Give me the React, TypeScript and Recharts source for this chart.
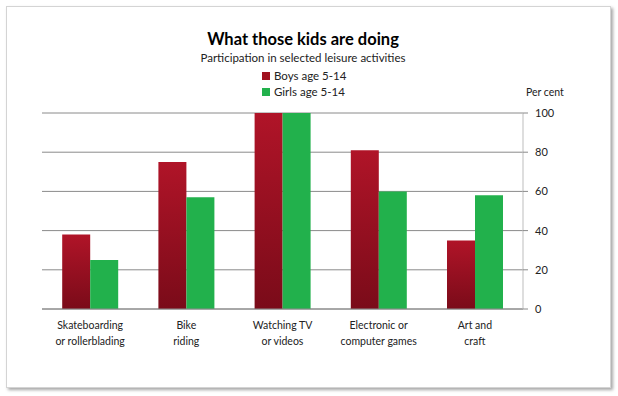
import React from "react";
import { BarChart, Bar, XAxis, YAxis, CartesianGrid, Legend } from "recharts";

const activities = [
  "Skateboarding\nor rollerblading",
  "Bike\nriding",
  "Watching TV\nor videos",
  "Electronic or\ncomputer games",
  "Art and\ncraft",
];
const boys = [38, 75, 100, 81, 35];
const girls = [25, 57, 100, 60, 58];
const yTicks = [0, 20, 40, 60, 80, 100];

const data = activities.map((name, i) => ({ name, boys: boys[i], girls: girls[i] }));

const FONT = "Lato, 'Open Sans', sans-serif";

function ActivityTick(props: any) {
  const { x, y, payload } = props;
  const lines = String(payload.value).split("\n");
  return (
    <text x={x} y={y + 12} textAnchor="middle" fontSize={10.5} fill="#222" fontFamily={FONT}>
      {lines.map((l, i) => (
        <tspan key={i} x={x} dy={i === 0 ? 0 : 16}>
          {l}
        </tspan>
      ))}
    </text>
  );
}

function LegendBox() {
  const items = [
    { label: "Boys age  5-14", color: "#a0111f" },
    { label: "Girls age  5-14", color: "#22b14c" },
  ];
  return (
    <div style={{ fontFamily: FONT, fontSize: 11.5, color: "#222", lineHeight: "16px" }}>
      {items.map((it) => (
        <div key={it.label} style={{ display: "flex", alignItems: "center" }}>
          <span style={{ width: 8, height: 8, background: it.color, marginRight: 4, display: "inline-block" }} />
          {it.label}
        </div>
      ))}
    </div>
  );
}

export default function App() {
  return (
    <div style={{ position: "absolute", left: 0, top: 0, width: 618, height: 396, background: "#fff" }}>
      <div
        style={{
          position: "absolute",
          left: 6,
          top: 6,
          width: 603,
          height: 380,
          border: "1px solid #d4d4d4",
          boxShadow: "2px 2px 3px rgba(0,0,0,0.35)",
          background: "#fff",
        }}
      />
      <div
        style={{
          position: "absolute",
          left: 0,
          width: 606,
          top: 29,
          textAlign: "center",
          fontFamily: FONT,
          fontWeight: 700,
          fontSize: 16.5,
          color: "#000",
        }}
      >
        What those kids are doing
      </div>
      <div
        style={{
          position: "absolute",
          left: 0,
          width: 606,
          top: 51,
          textAlign: "center",
          fontFamily: FONT,
          fontSize: 11.5,
          color: "#222",
        }}
      >
        Participation in selected leisure activities
      </div>
      <div
        style={{
          position: "absolute",
          left: 526,
          top: 86,
          fontFamily: FONT,
          fontSize: 10.5,
          color: "#222",
        }}
      >
        Per cent
      </div>
      <div style={{ position: "absolute", left: 0, top: 0 }}>
        <BarChart
          width={618}
          height={396}
          data={data}
          margin={{ top: 113, right: 55, bottom: 37, left: 42 }}
          barCategoryGap="21%"
          barGap={0}
        >
          <defs>
            <linearGradient id="boysGrad" x1="0" y1="0" x2="0" y2="1">
              <stop offset="0%" stopColor="#b01428" />
              <stop offset="100%" stopColor="#7a0b19" />
            </linearGradient>
          </defs>
          <CartesianGrid vertical={false} stroke="#8a8a8a" strokeWidth={1} />
          <XAxis
            dataKey="name"
            tick={<ActivityTick />}
            tickLine={false}
            axisLine={{ stroke: "#8a8a8a" }}
            interval={0}
            height={50}
          />
          <YAxis
            orientation="right"
            domain={[0, 100]}
            ticks={yTicks}
            width={40}
            axisLine={{ stroke: "#bdbdbd" }}
            tickLine={{ stroke: "#8a8a8a" }}
            tickSize={5}
            tickMargin={7}
            tick={{ fontSize: 11, fill: "#222", fontFamily: FONT }}
          />
          <Legend
            layout="horizontal"
            verticalAlign="middle"
            content={<LegendBox />}
            wrapperStyle={{ position: "absolute", left: 262, top: 68, width: 120 }}
          />
          <Bar dataKey="boys" name="Boys age 5-14" fill="url(#boysGrad)" isAnimationActive={false} />
          <Bar dataKey="girls" name="Girls age 5-14" fill="#22b14c" isAnimationActive={false} />
        </BarChart>
      </div>
    </div>
  );
}
